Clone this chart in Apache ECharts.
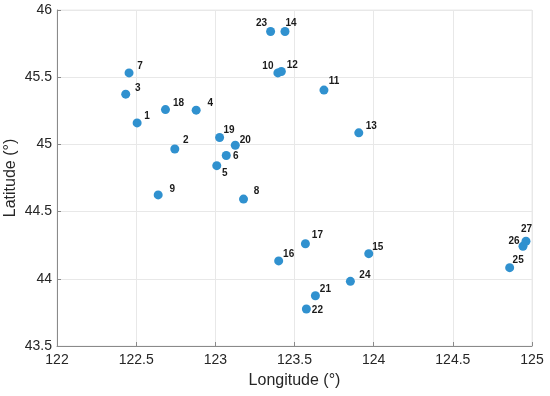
<!DOCTYPE html>
<html>
<head>
<meta charset="utf-8">
<script src="https://cdn.jsdelivr.net/npm/echarts@6/dist/echarts.min.js"></script>
<style>html,body{margin:0;padding:0;background:#fff}#c{width:550px;height:396px}</style>
</head>
<body>
<div id="c"></div>
<script>
var stationIds = ['1','2','3','4','5','6','7','8','9','10','11','12','13','14','15','16','17','18','19','20','21','22','23','24','25','26','27'];
var longitudes = [122.506,122.744,122.434,122.879,123.009,123.069,122.455,123.178,122.639,123.395,123.686,123.417,123.906,123.440,123.969,123.400,123.569,122.685,123.027,123.126,123.632,123.575,123.349,123.853,124.859,124.943,124.962];
var latitudes  = [45.160,44.966,45.374,45.255,44.842,44.917,45.532,44.593,44.624,45.532,45.404,45.542,45.086,45.840,44.187,44.133,44.261,45.259,45.051,44.994,43.874,43.775,45.840,43.981,44.083,44.242,44.279];
var xTicks = [122, 122.5, 123, 123.5, 124, 124.5, 125];
var yTicks = [43.5, 44, 44.5, 45, 45.5, 46];

// label placement (style only), relative to the marker centre, in px
var labelShift = {
  '1':[10,-7],'2':[11,-8.5],'3':[12,-6],'4':[14,-7],'5':[8,8],'6':[9.5,0.5],'7':[11,-7],
  '8':[13,-8],'9':[14,-6],'10':[-10,-7],'11':[10,-8.5],'12':[11,-6],'13':[12.5,-7],
  '14':[6,-8.5],'15':[9,-6],'16':[10,-7],'17':[12,-8.5],'18':[13,-6],'19':[9.5,-7],
  '20':[10,-5],'21':[10,-6],'22':[11,1.5],'23':[-9,-8.5],'24':[14.5,-6],'25':[8.5,-7],
  '26':[-9,-5],'27':[0.5,-12]
};
var SYM = 9;

var pts = stationIds.map(function(id, i){
  var s = labelShift[id] || [10,-7];
  return {
    value: [longitudes[i], latitudes[i], id],
    label: {position: [SYM/2 + s[0], SYM/2 + s[1]], align: 'center', verticalAlign: 'middle'}
  };
});

var chart = echarts.init(document.getElementById('c'), null, {renderer:'canvas'});
var FONT = 'Liberation Sans, Arial, Helvetica, sans-serif';
chart.setOption({
  animation: false,
  backgroundColor: '#ffffff',
  grid: {left: 57, right: 18, top: 10, bottom: 50, containLabel: false, outerBoundsMode: 'none',
         show: true, borderColor: '#ebebeb', borderWidth: 1},
  xAxis: {
    type: 'value', min: xTicks[0], max: xTicks[xTicks.length-1], interval: 0.5,
    name: 'Longitude (°)', nameLocation: 'middle', nameGap: 27, nameMoveOverlap: false,
    nameTextStyle: {fontFamily: FONT, fontSize: 16, color: '#262626'},
    axisLine: {show: true, onZero: false, lineStyle: {color: '#8a8a8a', width: 1}},
    axisTick: {show: true, inside: true, length: 4, lineStyle: {color: '#8a8a8a'}},
    axisLabel: {fontFamily: FONT, fontSize: 14, color: '#262626', margin: 7,
                formatter: function(v){ return String(v); }},
    splitLine: {show: true, lineStyle: {color: '#e8e8e8', width: 1}}
  },
  yAxis: {
    type: 'value', min: yTicks[0], max: yTicks[yTicks.length-1], interval: 0.5,
    name: 'Latitude (°)', nameLocation: 'middle', nameGap: 38, nameMoveOverlap: false,
    nameTextStyle: {fontFamily: FONT, fontSize: 16, color: '#262626'},
    axisLine: {show: true, onZero: false, lineStyle: {color: '#8a8a8a', width: 1}},
    axisTick: {show: true, inside: true, length: 4, lineStyle: {color: '#8a8a8a'}},
    axisLabel: {fontFamily: FONT, fontSize: 14, color: '#262626', margin: 5,
                formatter: function(v){ return String(v); }},
    splitLine: {show: true, lineStyle: {color: '#e8e8e8', width: 1}}
  },
  series: [{
    type: 'scatter',
    data: pts,
    symbol: 'circle',
    symbolSize: SYM,
    itemStyle: {color: '#3091cf', opacity: 1},
    label: {
      show: true,
      formatter: function(p){ return p.value[2]; },
      fontFamily: FONT, fontSize: 10, fontWeight: 'bold', color: '#1a1a1a'
    },
    labelLayout: {hideOverlap: false}
  }]
});
</script>
</body>
</html>
